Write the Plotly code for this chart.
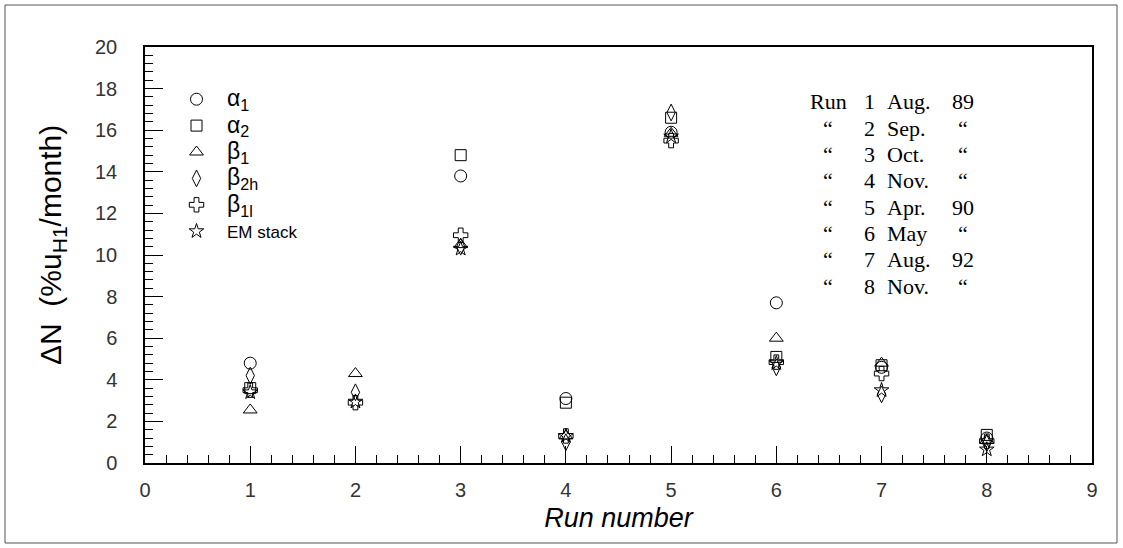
import plotly.graph_objects as go

# ---------------- data ----------------
runs = [1, 2, 3, 4, 5, 6, 7, 8]
alpha1 = [4.8, None, 13.8, 3.1, 15.9, 7.7, 4.6, 1.2]
alpha2 = [3.6, None, 14.8, 2.9, 16.6, 5.1, 4.7, 1.35]
beta1 = [2.55, 4.3, 10.5, 1.3, 15.85, 6.0, 4.8, 1.1]
beta2h = [4.2, 3.4, 10.4, 1.0, 16.85, 4.6, 3.3, 0.95]
beta1l = [3.5, 2.9, 10.95, 1.3, 15.5, 4.85, 4.3, 1.05]
em_stack = [3.4, 2.95, 10.3, 1.3, 15.7, 4.8, 3.5, 0.65]

series_names = ["α<sub>1</sub>", "α<sub>2</sub>", "β<sub>1</sub>", "β<sub>2h</sub>",
                "β<sub>1l</sub>", "EM stack"]
series_label_sizes = [23, 23, 23, 23, 23, 17]
series_values = [alpha1, alpha2, beta1, beta2h, beta1l, em_stack]
series_symbols = ["circle-open", "square-open", "triangle-up-open", "diamond-tall-open",
                  "cross-open", "star-open"]
series_sizes = [12, 11, 12, 12, 12, 11]

x_ticks = list(range(0, 10))
y_ticks = list(range(0, 21, 2))

run_col_a = ["Run", "“", "“", "“", "“", "“", "“", "“"]
run_col_b = ["1", "2", "3", "4", "5", "6", "7", "8"]
run_col_c = ["Aug.", "Sep.", "Oct.", "Nov.", "Apr.", "May", "Aug.", "Nov."]
run_col_d = ["89", "“", "“", "“", "90", "“", "92", "“"]

# ---------------- layout geometry (pixels) ----------------
W, H = 1123, 548
L, R, T, B = 145, 1092, 47, 463


def px_x(p):
    return (p - L) / (R - L)


def px_y(p):
    return (B - p) / (B - T)


fig = go.Figure()
for name, lsz, vals, sym, sz in zip(series_names, series_label_sizes, series_values,
                                    series_symbols, series_sizes):
    fig.add_trace(go.Scatter(
        x=runs, y=vals, mode="markers",
        name=f"<span style='font-size:{lsz}px'>{name}</span>",
        marker=dict(symbol=sym, size=sz, color="black", line=dict(color="black", width=1)),
        cliponaxis=False,
    ))

tick_font = dict(family="Liberation Sans, Arial, sans-serif", size=20, color="#333333")

fig.update_layout(
    width=W, height=H,
    margin=dict(l=L, r=W - R, t=T, b=H - B, pad=0),
    paper_bgcolor="white", plot_bgcolor="white",
    showlegend=True,
    legend=dict(
        x=px_x(166), y=px_y(81), xanchor="left", yanchor="top",
        font=dict(family="Liberation Sans, Arial, sans-serif", size=18, color="black"),
        bgcolor="rgba(0,0,0,0)", borderwidth=0, itemwidth=51,
        tracegroupgap=0,
    ),
    xaxis=dict(
        range=[0, 9], tickmode="array", tickvals=x_ticks, ticktext=[str(v) for v in x_ticks],
        ticks="inside", ticklen=17, tickwidth=1, tickcolor="black",
        minor=dict(dtick=0.2, ticks="inside", ticklen=8, tickwidth=1, tickcolor="black"),
        showline=True, linecolor="black", linewidth=1.5, mirror=True,
        showgrid=False, zeroline=False, tickfont=tick_font, ticklabelstandoff=8,
        title=dict(text="<i>Run number</i>", font=dict(family="Liberation Sans, Arial, sans-serif",
                                                       size=27, color="black"), standoff=8),
    ),
    yaxis=dict(
        range=[0, 20], tickmode="array", tickvals=y_ticks, ticktext=[str(v) for v in y_ticks],
        ticks="inside", ticklen=18, tickwidth=1, tickcolor="black",
        minor=dict(dtick=0.4, ticks="inside", ticklen=8, tickwidth=1, tickcolor="black"),
        showline=True, linecolor="black", linewidth=1.5, mirror=True,
        showgrid=False, zeroline=False, tickfont=tick_font, ticklabelstandoff=22,
    ),
)

# y-axis title
fig.add_annotation(
    text="ΔN  (%u<sub>H1</sub>/month)", textangle=-90,
    xref="paper", yref="paper", x=px_x(52), y=px_y(245), xanchor="center", yanchor="middle",
    showarrow=False, font=dict(family="Liberation Sans, Arial, sans-serif", size=30, color="black"),
)

# run description block
serif = dict(family="Liberation Serif, Times New Roman, serif", size=22, color="black")
row_y0, row_dy = 102, 26.3
for i in range(len(run_col_a)):
    yy = px_y(row_y0 + i * row_dy)
    fig.add_annotation(text=run_col_a[i], xref="paper", yref="paper", x=px_x(828), y=yy,
                       xanchor="center", yanchor="middle", showarrow=False, font=serif)
    fig.add_annotation(text=run_col_b[i], xref="paper", yref="paper", x=px_x(869), y=yy,
                       xanchor="center", yanchor="middle", showarrow=False, font=serif)
    fig.add_annotation(text=run_col_c[i], xref="paper", yref="paper", x=px_x(885), y=yy,
                       xanchor="left", yanchor="middle", showarrow=False, font=serif)
    fig.add_annotation(text=run_col_d[i], xref="paper", yref="paper", x=px_x(963), y=yy,
                       xanchor="center", yanchor="middle", showarrow=False, font=serif)

# outer frame
fig.add_shape(type="rect", xref="paper", yref="paper",
              x0=px_x(5), x1=px_x(1117), y0=px_y(543), y1=px_y(5),
              line=dict(color="#555555", width=1), fillcolor="rgba(0,0,0,0)", layer="below")

fig.write_html("out.html")
